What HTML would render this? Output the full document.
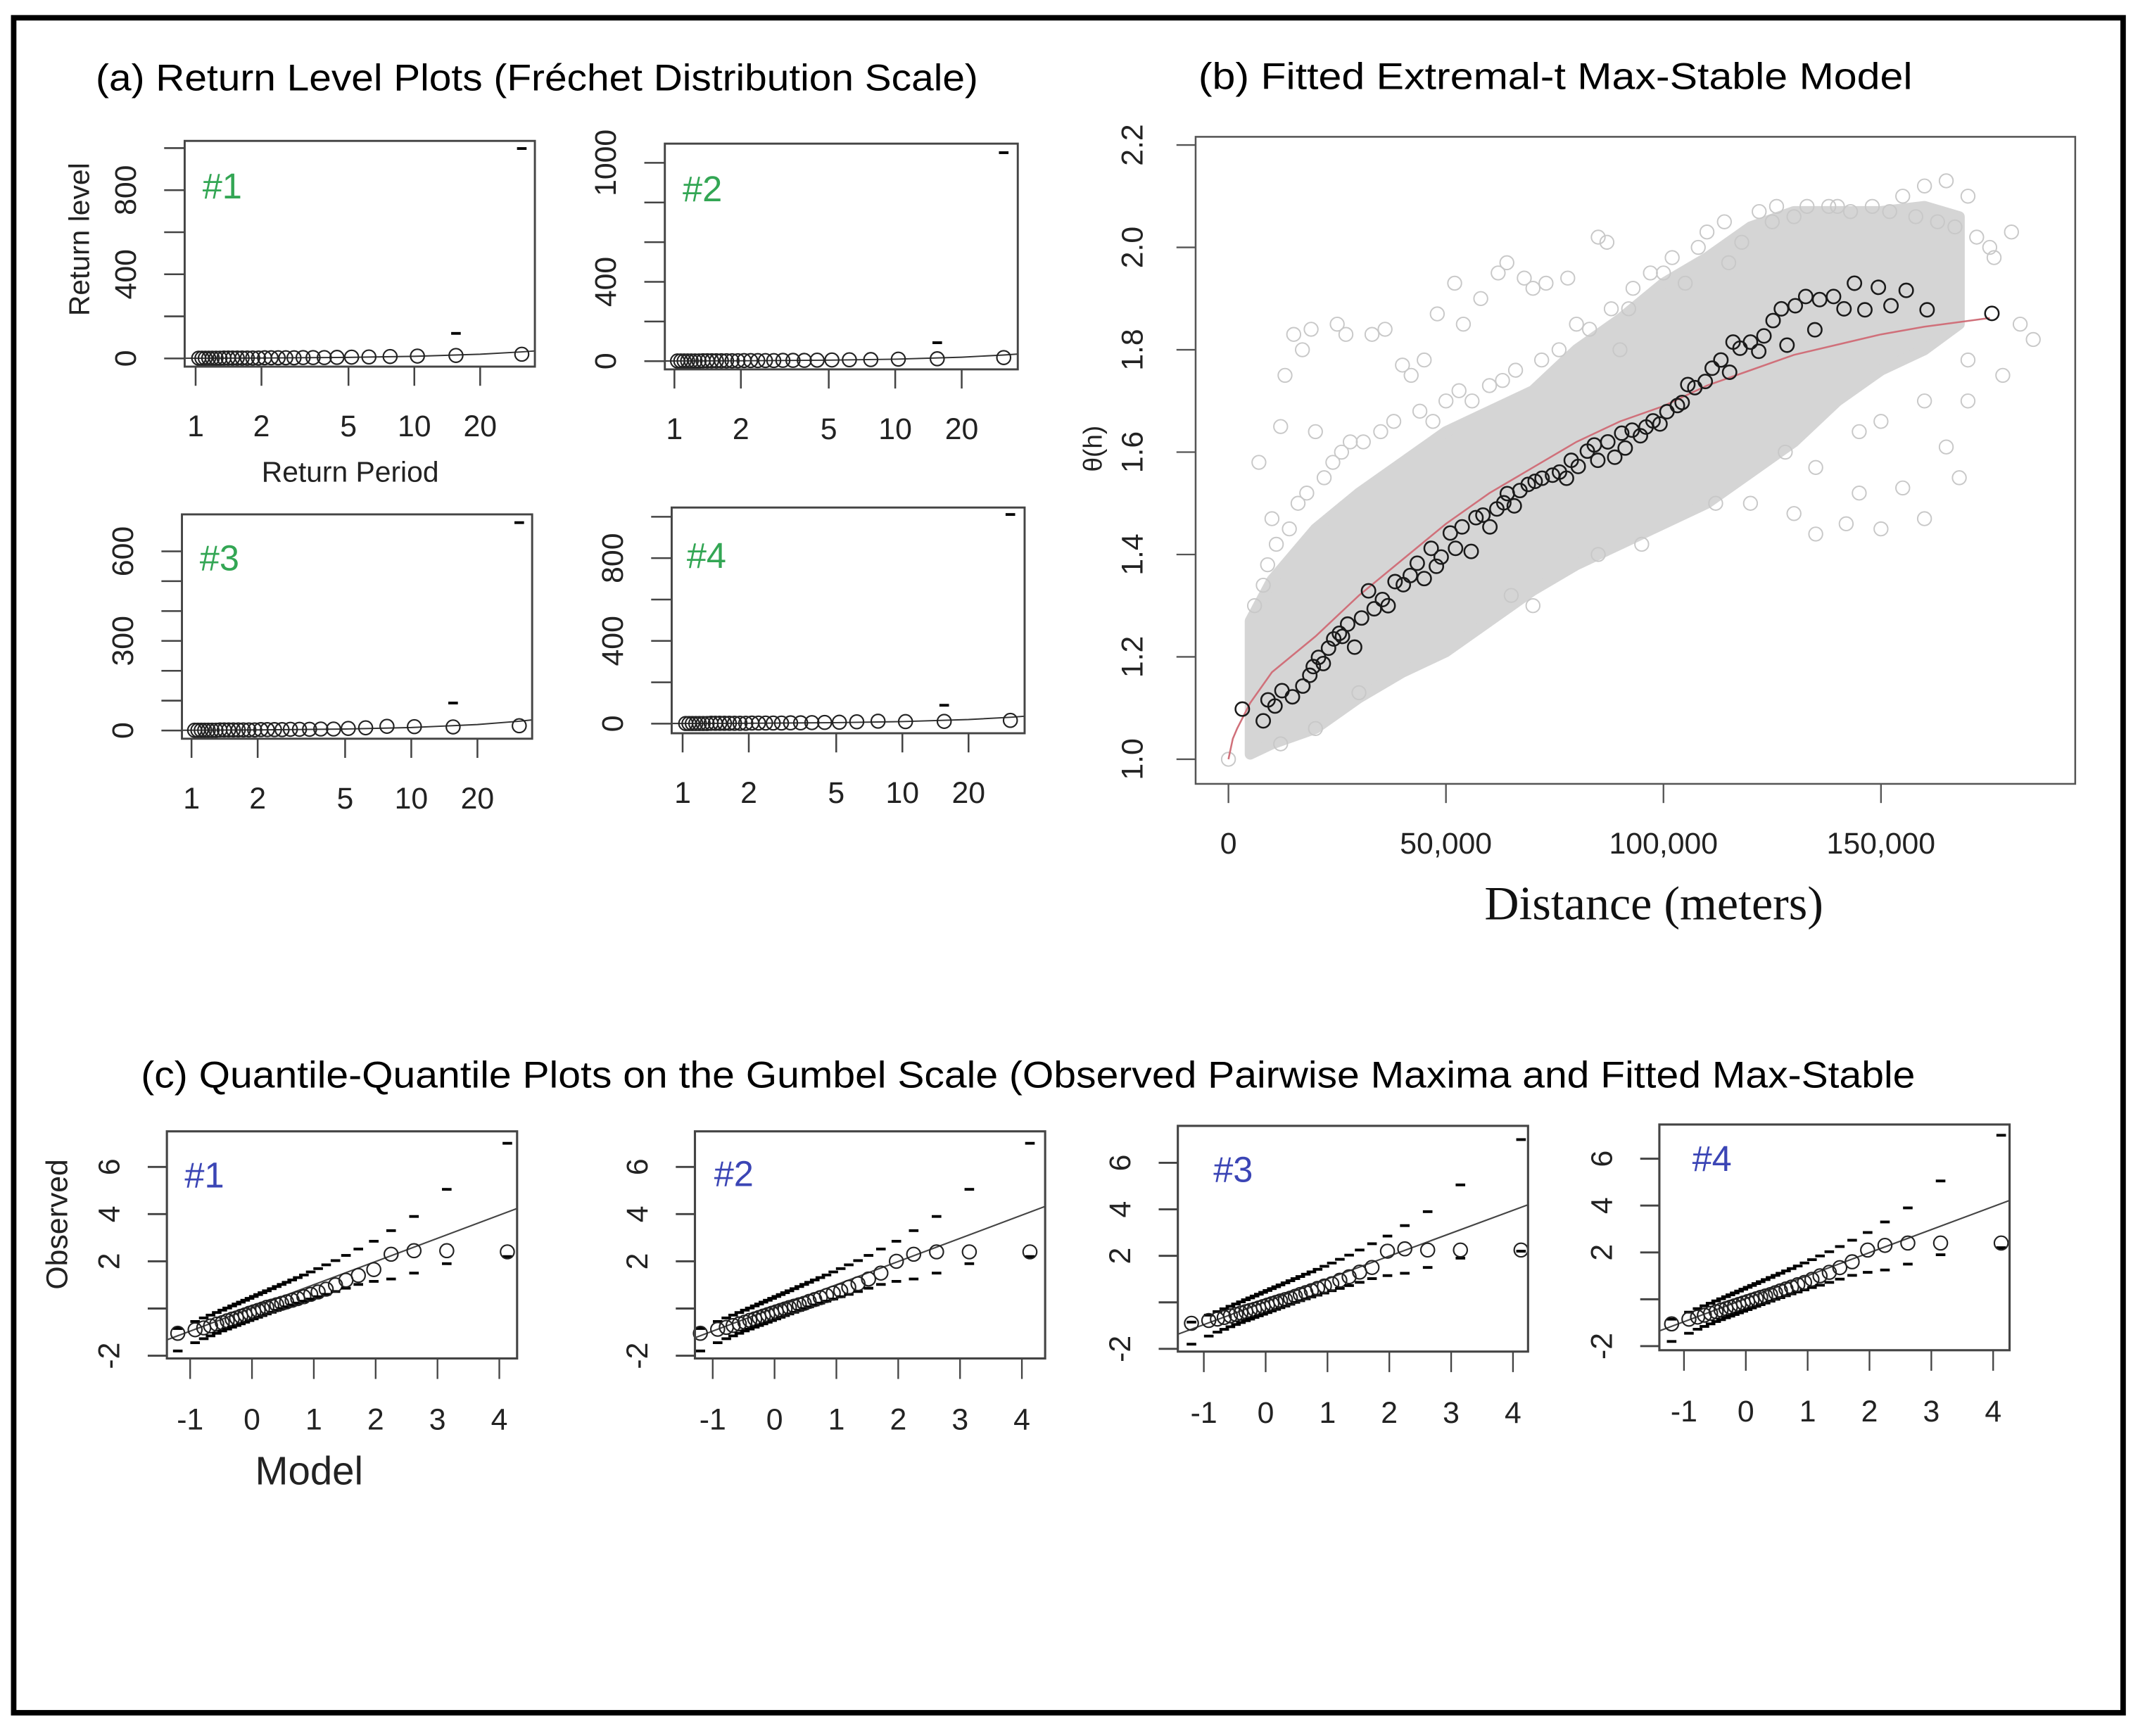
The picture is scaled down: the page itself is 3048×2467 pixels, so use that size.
<!DOCTYPE html>
<html><head><meta charset="utf-8"><style>
html,body{margin:0;padding:0;background:#fff;}
svg{display:block;}
text{font-family:"Liberation Sans",sans-serif;}
</style></head><body>
<svg id="fig" xmlns="http://www.w3.org/2000/svg" width="3048" height="2467" viewBox="0 0 1568 1269" preserveAspectRatio="none">
<rect x="0" y="0" width="1568" height="1269" fill="#fff"/>
<rect x="10" y="13" width="1542" height="1239" fill="none" stroke="#000" stroke-width="4"/>
<text x="70" y="66" font-size="27" textLength="645" lengthAdjust="spacingAndGlyphs">(a) Return Level Plots (Fréchet Distribution Scale)</text>
<text x="876" y="65" font-size="27" textLength="522" lengthAdjust="spacingAndGlyphs">(b)  Fitted Extremal-t Max-Stable Model</text>
<text x="103" y="795" font-size="27" textLength="1297" lengthAdjust="spacingAndGlyphs">(c) Quantile-Quantile Plots on the Gumbel Scale (Observed Pairwise Maxima and Fitted Max-Stable</text>
<g id="layer"></g>
</svg>
<script>
// ---------- (a) return level data ----------
const rlPeriods = [1.033,1.069,1.107,1.148,1.192,1.24,1.292,1.348,1.409,1.476,1.55,1.632,1.722,1.824,1.938,2.067,2.214,2.385,2.583,2.818,3.1,3.444,3.875,4.429,5.167,6.2,7.75,10.33,15.5,31];
const rlLevels1 = [1,1,1,1,1,1,1,2,2,2,2,2,2,2,2,3,3,3,3,3,4,4,4,5,6,7,9,11,14,20];
const rlLevels2 = [1,1,1,1,1,1,1,2,2,2,2,2,2,2,2,3,3,3,3,3,4,4,4,5,6,7,8,10,12,18];
const rlLevels3 = [1,1,1,1,1,1,1,2,2,2,2,2,2,2,2,3,3,3,3,4,4,4,5,5,7,9,14,13,12,16];
const rlLevels4 = [1,1,1,1,1,1,1,2,2,2,2,2,2,2,2,3,3,3,3,3,4,4,5,6,7,9,12,10,11,16];
const rlFitT = [0.9,1,2,5,10,20,31,36];
const rlFitV = [0.9,1,2,5,10,20,31,36];
const rlUpperT = [15.5,31];
const rlUpper1 = [119,998];
const rlUpper2 = [93,1051];
const rlUpper3 = [92,696];
const rlUpper4 = [89,1011];
const rlXTicks = [1,2,5,10,20];
const rlYTicks1 = [0,200,400,600,800,1000], rlYLabels1 = ["0","","400","","800",""];
const rlYTicks2 = [0,200,400,600,800,1000], rlYLabels2 = ["0","","400","","","1000"];
const rlYTicks3 = [0,100,200,300,400,500,600], rlYLabels3 = ["0","","","300","","","600"];
const rlYTicks4 = [0,200,400,600,800,1000], rlYLabels4 = ["0","","400","","800",""];

// ---------- (b) extremal-t data ----------
const bDist = [3190,8000,9100,10700,12300,14700,17100,18700,19500,20700,21800,23000,24200,25500,26200,27400,29000,30600,32200,33500,35400,36700,38300,40200,41800,43400,45000,46600,47800,48900,51000,52200,53700,55800,56900,58500,60100,61700,63300,64100,65700,67000,68900,70500,72100,74500,76100,77700,78800,80400,82500,84100,84900,87200,88800,90400,91200,92800,94700,96000,97600,99200,100800,103200,104300,105600,107200,109600,111200,113200,115200,116000,117600,120000,121900,123100,125200,127100,128400,130300,132700,134800,135900,139100,141500,143900,146300,149400,152300,155800,160600,175500];
const bTheta = [1.098,1.075,1.116,1.104,1.134,1.122,1.143,1.164,1.181,1.199,1.187,1.217,1.235,1.246,1.24,1.264,1.219,1.276,1.329,1.294,1.312,1.300,1.347,1.341,1.359,1.383,1.353,1.412,1.377,1.395,1.442,1.412,1.454,1.406,1.472,1.477,1.454,1.489,1.501,1.519,1.495,1.525,1.537,1.543,1.549,1.555,1.561,1.549,1.584,1.572,1.602,1.614,1.584,1.620,1.590,1.637,1.608,1.643,1.632,1.649,1.661,1.655,1.679,1.691,1.697,1.732,1.726,1.738,1.764,1.780,1.756,1.815,1.803,1.815,1.797,1.827,1.857,1.880,1.809,1.886,1.904,1.839,1.898,1.904,1.880,1.930,1.878,1.922,1.886,1.916,1.878,1.871];
const bGrayDist = [7000,10000,12000,13000,15000,17000,19000,20000,25000,27000,33000,36000,40000,42000,45000,48000,52000,54000,58000,62000,64000,68000,70000,73000,78000,85000,87000,90000,92000,100000,105000,115000,118000,125000,130000,140000,155000,160000,165000,170000,175000,180000,185000,182000,178000,170000,168000,160000,150000,145000,142000,135000,130000,128000,135000,155000,165000,170000,112000,120000,95000,85000,65000,70000,30000,20000,12000,0,150000,160000,145000,
 6000,8000,9000,11000,14000,16000,18000,22000,24000,26000,28000,31000,35000,38000,44000,47000,50000,53000,56000,60000,63000,66000,72000,76000,80000,83000,88000,93000,97000,102000,108000,110000,114000,122000,126000,133000,138000,143000,148000,152000,158000,163000,167000,172000,176000];
const bGrayTheta = [1.58,1.47,1.65,1.75,1.83,1.80,1.84,1.64,1.85,1.83,1.83,1.84,1.77,1.75,1.78,1.87,1.93,1.85,1.90,1.95,1.97,1.94,1.92,1.93,1.94,2.02,2.01,1.80,1.88,1.95,1.93,1.97,2.01,2.05,2.06,2.08,2.10,2.12,2.13,2.10,2.00,2.03,1.82,1.85,1.75,1.70,1.55,1.47,1.45,1.52,1.46,1.44,1.48,1.60,1.57,1.53,1.61,1.78,1.50,1.50,1.42,1.40,1.32,1.30,1.13,1.06,1.03,1.00,1.66,1.70,1.64,
 1.30,1.34,1.38,1.42,1.45,1.50,1.52,1.55,1.58,1.60,1.62,1.62,1.64,1.66,1.68,1.66,1.70,1.72,1.70,1.73,1.74,1.76,1.78,1.80,1.85,1.84,1.88,1.92,1.95,1.98,2.00,2.03,2.05,2.07,2.08,2.08,2.08,2.07,2.08,2.07,2.06,2.05,2.04,2.02,1.98];
const bBandDist = [5000,10000,20000,30000,40000,50000,60000,70000,80000,90000,100000,110000,120000,130000,140000,150000,160000,168000];
const bBandLow = [1.01,1.03,1.06,1.12,1.17,1.21,1.27,1.33,1.38,1.42,1.46,1.50,1.56,1.62,1.70,1.76,1.80,1.85];
const bBandHigh = [1.27,1.35,1.45,1.52,1.58,1.64,1.68,1.72,1.80,1.86,1.93,1.98,2.04,2.07,2.07,2.07,2.08,2.06];
const bFitDist = [0,1000,2000,5000,10000,20000,30000,40000,50000,60000,70000,80000,90000,100000,110000,120000,130000,140000,150000,160000,175000];
const bFitTheta = [1.0,1.04,1.06,1.11,1.17,1.24,1.32,1.39,1.46,1.52,1.57,1.62,1.66,1.69,1.73,1.76,1.79,1.81,1.83,1.845,1.862];
const bXTicks = [0,50000,100000,150000], bXLabels = ["0","50,000","100,000","150,000"];
const bYTicks = [1.0,1.2,1.4,1.6,1.8,2.0,2.2], bYLabels = ["1.0","1.2","1.4","1.6","1.8","2.0","2.2"];

// ---------- (c) QQ data ----------
const qqModel = [-1.2,-0.92,-0.78,-0.67,-0.57,-0.48,-0.4,-0.32,-0.25,-0.18,-0.11,-0.04,0.03,0.1,0.17,0.24,0.32,0.4,0.48,0.56,0.65,0.74,0.84,0.95,1.07,1.2,1.35,1.52,1.72,1.97,2.25,2.62,3.15,4.13];
const qqObs1 = [-1.05,-0.9,-0.82,-0.74,-0.66,-0.6,-0.52,-0.45,-0.4,-0.33,-0.27,-0.2,-0.14,-0.08,-0.02,0.05,0.1,0.16,0.22,0.28,0.35,0.42,0.5,0.6,0.7,0.82,1.0,1.2,1.4,1.65,2.3,2.45,2.45,2.4];
const qqObs2 = [-1.05,-0.88,-0.8,-0.72,-0.65,-0.58,-0.5,-0.44,-0.38,-0.32,-0.26,-0.2,-0.14,-0.08,-0.02,0.04,0.1,0.16,0.22,0.3,0.38,0.46,0.55,0.65,0.75,0.9,1.05,1.25,1.5,2.0,2.3,2.4,2.4,2.4];
const qqObs3 = [-0.9,-0.78,-0.72,-0.65,-0.58,-0.52,-0.46,-0.4,-0.35,-0.3,-0.24,-0.18,-0.12,-0.06,0.0,0.06,0.12,0.18,0.26,0.34,0.42,0.5,0.6,0.7,0.8,0.95,1.1,1.3,1.5,2.2,2.3,2.25,2.25,2.25];
const qqObs4 = [-1.05,-0.85,-0.76,-0.68,-0.6,-0.53,-0.46,-0.4,-0.34,-0.28,-0.22,-0.16,-0.1,-0.04,0.02,0.08,0.14,0.2,0.28,0.36,0.44,0.52,0.62,0.72,0.85,1.0,1.15,1.35,1.6,2.1,2.3,2.4,2.4,2.4];
const qqUpper = [-0.85,-0.55,-0.4,-0.28,-0.17,-0.07,0.02,0.11,0.19,0.27,0.35,0.43,0.51,0.59,0.67,0.75,0.84,0.93,1.02,1.11,1.21,1.31,1.42,1.55,1.69,1.85,2.03,2.25,2.52,2.85,3.3,3.9,5.05,7.0];
const qqLower = [-1.8,-1.45,-1.28,-1.16,-1.05,-0.95,-0.87,-0.79,-0.72,-0.65,-0.58,-0.51,-0.44,-0.37,-0.3,-0.23,-0.16,-0.08,0.0,0.07,0.15,0.23,0.31,0.4,0.5,0.6,0.72,0.86,1.02,1.15,1.25,1.5,1.9,2.2];
const qqLineX = [-1.5,4.4];
const qqLineY = [-1.45,4.35];
const qqXTicks = [-1,0,1,2,3,4], qqXLabels = ["-1","0","1","2","3","4"];
const qqYTicks = [-2,0,2,4,6], qqYLabels = ["-2","","2","4","6"];

const NS = "http://www.w3.org/2000/svg";
const layer = document.getElementById('layer');
function mk(tag, attrs, parent){
  const e = document.createElementNS(NS, tag);
  for (const k in attrs) e.setAttribute(k, attrs[k]);
  (parent||layer).appendChild(e);
  return e;
}
let clipId = 0;
function clipFor(box){
  clipId++;
  const cp = mk('clipPath',{id:'cp'+clipId});
  mk('rect',{x:box[0],y:box[1],width:box[2]-box[0],height:box[3]-box[1]},cp);
  return 'url(#cp'+clipId+')';
}
function linScale(v0,p0,v1,p1){ return v => p0 + (v-v0)*(p1-p0)/(v1-v0); }
function logScale(v0,p0,v1,p1){ const a=Math.log10(v0), b=Math.log10(v1); return v => p0 + (Math.log10(v)-a)*(p1-p0)/(b-a); }

// ================= (a) =================
const rlPanels = [
  {box:[135,103,391,268], x1:143, x20:351, y0p:262, yv:800, yvp:139, lv:rlLevels1, up:rlUpper1, yt:rlYTicks1, yl:rlYLabels1, tag:"#1", hx:13, hy:42},
  {box:[486,105,744,270], x1:493, x20:703, y0p:264, yv:1000, yvp:119, lv:rlLevels2, up:rlUpper2, yt:rlYTicks2, yl:rlYLabels2, tag:"#2", hx:13, hy:42},
  {box:[133,376,389,540], x1:140, x20:349, y0p:534, yv:600, yvp:403, lv:rlLevels3, up:rlUpper3, yt:rlYTicks3, yl:rlYLabels3, tag:"#3", hx:13, hy:41},
  {box:[491,371,749,536], x1:499, x20:708, y0p:529, yv:800, yvp:408, lv:rlLevels4, up:rlUpper4, yt:rlYTicks4, yl:rlYLabels4, tag:"#4", hx:11, hy:44}
];
rlPanels.forEach((p,i)=>{
  const g = mk('g',{});
  
  
  const X = logScale(1,p.x1,20,p.x20), Y = linScale(0,p.y0p,p.yv,p.yvp);
  const b = p.box;
  const cp = clipFor(b);
  const fl = mk('polyline',{points:rlFitT.map((t,k)=>X(t)+','+Y(rlFitV[k])).join(' '),fill:'none',stroke:'#333','stroke-width':1,'clip-path':cp},g);
  
  
  rlPeriods.forEach((t,k)=>{
    const c = mk('circle',{cx:X(t),cy:Y(p.lv[k]),r:5,fill:'none',stroke:'#222','stroke-width':1.1},g);
    
    
  });
  rlUpperT.forEach((t,k)=>{
    const d = mk('line',{x1:X(t)-3.5,x2:X(t)+3.5,y1:Y(p.up[k]),y2:Y(p.up[k]),stroke:'#000','stroke-width':2},g);
    
    
  });
  const fr = mk('rect',{x:b[0],y:b[1],width:b[2]-b[0],height:b[3]-b[1],fill:'none',stroke:'#444','stroke-width':1.5},g);
  
  
  p.yt.forEach((v,k)=>{
    const y = Y(v);
    mk('line',{x1:b[0]-15,x2:b[0],y1:y,y2:y,stroke:'#444','stroke-width':1.3},g);
    if (p.yl[k]) {
      const t = mk('text',{x:b[0]-43,y:y,'font-size':22,'text-anchor':'middle','dominant-baseline':'central',transform:'rotate(-90 '+(b[0]-43)+' '+y+')',fill:'#222'},g);
      t.textContent = p.yl[k];
      
      
    }
  });
  rlXTicks.forEach(v=>{
    const x = X(v);
    mk('line',{x1:x,x2:x,y1:b[3],y2:b[3]+14,stroke:'#444','stroke-width':1.3},g);
    const t = mk('text',{x:x,y:b[3]+51,'font-size':22,'text-anchor':'middle',fill:'#222'},g);
    t.textContent = v;
    
    
  });
  const h = mk('text',{x:b[0]+p.hx,y:b[1]+p.hy,'font-size':26,fill:'#33a654'},g);
  h.textContent = p.tag;
  
  
});
{
  const t1 = mk('text',{x:256,y:352,'font-size':21,'text-anchor':'middle',fill:'#222'});
  t1.textContent = 'Return Period';
  
  
  const t2 = mk('text',{x:58,y:175,'font-size':21,'text-anchor':'middle','dominant-baseline':'central',transform:'rotate(-90 58 175)',fill:'#222'});
  t2.textContent = 'Return level';
  
  
}

// ================= (b) =================
{
  const box = [874,100,1517,573];
  const X = linScale(0,898,150000,1375), Y = linScale(1.0,555,2.2,106);
  const g = mk('g',{});
  
  
  const cp = clipFor(box);
  const bandPts = bBandDist.map((d,k)=>X(d)+','+Y(bBandHigh[k])).concat(bBandDist.slice().reverse().map((d,k)=>X(d)+','+Y(bBandLow[bBandLow.length-1-k])));
  const band = mk('polygon',{points:bandPts.join(' '),fill:'#d5d5d5',stroke:'#d5d5d5','stroke-width':8,'stroke-linejoin':'round','clip-path':cp},g);
  
  
  bGrayDist.forEach((d,k)=>{
    const c = mk('circle',{cx:X(d),cy:Y(bGrayTheta[k]),r:5,fill:'none',stroke:'#c8c8c8','stroke-width':1},g);
    
    
  });
  const fit = mk('polyline',{points:bFitDist.map((d,k)=>X(d)+','+Y(bFitTheta[k])).join(' '),fill:'none',stroke:'#d0707a','stroke-width':1.3},g);
  
  
  bDist.forEach((d,k)=>{
    const c = mk('circle',{cx:X(d),cy:Y(bTheta[k]),r:5,fill:'none',stroke:'#1a1a1a','stroke-width':1.3},g);
    
    
  });
  const fr = mk('rect',{x:box[0],y:box[1],width:box[2]-box[0],height:box[3]-box[1],fill:'none',stroke:'#555','stroke-width':1.3},g);
  
  
  bYTicks.forEach((v,k)=>{
    const y = Y(v);
    mk('line',{x1:box[0]-14,x2:box[0],y1:y,y2:y,stroke:'#555','stroke-width':1.2},g);
    const t = mk('text',{x:828,y:y,'font-size':22,'text-anchor':'middle','dominant-baseline':'central',transform:'rotate(-90 828 '+y+')',fill:'#222'},g);
    t.textContent = bYLabels[k];
    
    
  });
  bXTicks.forEach((v,k)=>{
    const x = X(v);
    mk('line',{x1:x,x2:x,y1:box[3],y2:box[3]+14,stroke:'#555','stroke-width':1.2},g);
    const t = mk('text',{x:x,y:624,'font-size':22,'text-anchor':'middle',fill:'#222'},g);
    t.textContent = bXLabels[k];
    
    
  });
  const xt = mk('text',{x:1209,y:672,'font-size':35,'text-anchor':'middle',fill:'#111',style:'font-family:"Liberation Serif",serif'},g);
  xt.textContent = 'Distance (meters)';
  
  
  const yt = mk('text',{x:799,y:328,'font-size':19,'text-anchor':'middle','dominant-baseline':'central',transform:'rotate(-90 799 328)',fill:'#222'},g);
  yt.textContent = 'θ(h)';
  
  
}

// ================= (c) =================
const qqPanels = [
  {box:[122,827,378,993], xm1:139, x4:365, ym2:991, y6:853, obs:qqObs1, tag:"#1", hx:13, hy:41},
  {box:[508,827,764,993], xm1:521, x4:747, ym2:991, y6:853, obs:qqObs2, tag:"#2", hx:14, hy:40},
  {box:[861,823,1117,988], xm1:880, x4:1106, ym2:986, y6:850, obs:qqObs3, tag:"#3", hx:26, hy:41},
  {box:[1213,822,1469,987], xm1:1231, x4:1457, ym2:984, y6:847, obs:qqObs4, tag:"#4", hx:24, hy:34}
];
qqPanels.forEach((p,i)=>{
  const g = mk('g',{});
  
  
  const X = linScale(-1,p.xm1,4,p.x4), Y = linScale(-2,p.ym2,6,p.y6);
  const b = p.box;
  const cp = clipFor(b);
  const ln = mk('line',{x1:X(qqLineX[0]),y1:Y(qqLineY[0]),x2:X(qqLineX[1]),y2:Y(qqLineY[1]),stroke:'#444','stroke-width':1.1,'clip-path':cp},g);
  
  
  qqModel.forEach((m,k)=>{
    const x = X(m);
    const u = mk('line',{x1:x-3.5,x2:x+3.5,y1:Y(qqUpper[k]),y2:Y(qqUpper[k]),stroke:'#000','stroke-width':2,'clip-path':cp},g);
    
    
    const l = mk('line',{x1:x-3.5,x2:x+3.5,y1:Y(qqLower[k]),y2:Y(qqLower[k]),stroke:'#000','stroke-width':2,'clip-path':cp},g);
    
    
    const c = mk('circle',{cx:x,cy:Y(p.obs[k]),r:5,fill:'none',stroke:'#222','stroke-width':1.1},g);
    
    
  });
  const fr = mk('rect',{x:b[0],y:b[1],width:b[2]-b[0],height:b[3]-b[1],fill:'none',stroke:'#444','stroke-width':1.6},g);
  
  
  qqYTicks.forEach((v,k)=>{
    const y = Y(v);
    mk('line',{x1:b[0]-14,x2:b[0],y1:y,y2:y,stroke:'#444','stroke-width':1.5},g);
    if (qqYLabels[k]) {
      const lx = b[0]-42;
      const t = mk('text',{x:lx,y:y,'font-size':22,'text-anchor':'middle','dominant-baseline':'central',transform:'rotate(-90 '+lx+' '+y+')',fill:'#222'},g);
      t.textContent = qqYLabels[k];
      
      
    }
  });
  qqXTicks.forEach((v,k)=>{
    const x = X(v);
    mk('line',{x1:x,x2:x,y1:b[3],y2:b[3]+15,stroke:'#444','stroke-width':1.2},g);
    const t = mk('text',{x:x,y:b[3]+52,'font-size':22,'text-anchor':'middle',fill:'#222'},g);
    t.textContent = qqXLabels[k];
    
    
  });
  const h = mk('text',{x:b[0]+p.hx,y:b[1]+p.hy,'font-size':26,fill:'#3b45b5'},g);
  h.textContent = p.tag;
  
  
});
{
  const t1 = mk('text',{x:226,y:1085,'font-size':29,'text-anchor':'middle',fill:'#222'});
  t1.textContent = 'Model';
  
  
  const t2 = mk('text',{x:42,y:895,'font-size':22,'text-anchor':'middle','dominant-baseline':'central',transform:'rotate(-90 42 895)',fill:'#222'});
  t2.textContent = 'Observed';
  
  
}
</script>
</body></html>
